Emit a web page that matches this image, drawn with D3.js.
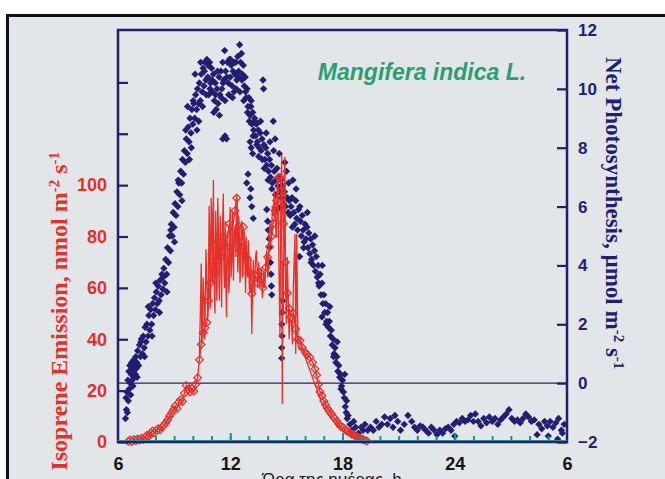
<!DOCTYPE html>
<html>
<head>
<meta charset="utf-8">
<script src="https://cdn.jsdelivr.net/npm/d3@7"></script>
<style>
  body { margin: 0; background: #ffffff; }
  svg { display: block; }
</style>
</head>
<body>
<svg id="svg1" width="665" height="479"></svg>
<script>
"use strict";

// net photosynthesis, [hour, umol m-2 s-1]
const netPhoto = [
  [6.40,-1.2],[6.43,-0.5],[6.45,-0.9],[6.48,-0.3],[6.50,-1.0],[6.53,0.1],[6.55,-0.6],[6.58,0.4],[6.60,-0.2],[6.63,0.6],
  [6.65,0.0],[6.68,-0.4],[6.70,0.3],[6.73,0.7],[6.75,0.1],[6.78,0.5],[6.80,-0.1],[6.83,0.4],[6.85,0.8],[6.88,0.2],
  [6.90,0.6],[6.93,0.3],[6.95,0.9],[6.98,0.5],[7.00,0.7],[7.05,1.1],[7.10,0.6],[7.15,1.3],[7.20,0.9],[7.25,1.5],
  [7.30,1.0],[7.35,1.6],[7.40,1.2],[7.45,1.9],[7.50,1.4],[7.55,2.0],[7.60,1.6],[7.65,2.3],[7.70,1.8],[7.75,2.5],
  [7.80,2.0],[7.85,2.7],[7.90,2.3],[7.95,2.9],[8.00,2.5],[8.05,3.1],[8.10,2.7],[8.15,3.3],[8.20,2.8],[8.25,3.5],
  [8.30,3.0],[8.35,3.7],[8.40,3.2],[8.45,3.9],[8.50,3.4],[8.55,4.2],[8.60,3.7],[8.65,4.6],[8.70,4.1],[8.75,5.0],
  [8.80,4.5],[8.85,5.4],[8.90,5.0],[8.95,5.8],[9.00,5.3],[9.05,6.1],[9.10,5.7],[9.15,6.5],[9.20,6.0],[9.25,6.8],
  [9.30,6.4],[9.35,7.2],[9.40,6.8],[9.45,7.6],[9.50,7.1],[9.55,7.9],[9.60,7.5],[9.65,8.3],[9.70,7.8],[9.75,8.7],
  [9.80,8.2],[9.85,9.0],[9.90,8.5],[9.95,9.3],[10.00,8.8],[10.05,9.5],[10.10,9.0],[10.15,9.8],[10.20,9.3],[10.25,10.0],
  [10.30,9.5],[10.35,10.2],[10.40,9.6],[10.45,10.5],[10.50,9.9],[10.55,10.7],[10.60,10.1],[10.65,10.9],[10.70,10.3],[10.75,11.0],
  [10.80,10.4],[10.85,9.8],[10.90,10.9],[10.95,10.2],[11.00,10.7],[11.05,9.9],[11.10,10.5],[11.15,9.6],[11.20,10.2],[11.25,9.3],
  [11.30,10.0],[11.35,9.5],[11.40,10.4],[11.45,9.8],[11.50,10.6],[11.55,10.0],[11.60,10.9],[11.65,10.3],[11.70,11.3],[11.75,10.6],
  [11.80,8.3],[11.85,10.9],[11.90,10.2],[11.95,11.0],[12.00,10.4],[12.05,10.8],[12.10,10.1],[12.15,10.6],[12.20,9.9],[12.25,10.5],
  [12.30,10.9],[12.35,10.3],[12.40,11.1],[12.45,10.6],[12.50,11.5],[12.55,10.9],[12.60,11.2],[12.65,10.5],[12.70,10.8],[12.75,10.1],
  [12.80,10.4],[12.85,9.7],[12.90,10.0],[12.95,9.4],[13.00,9.7],[13.05,9.1],[13.10,9.4],[13.15,8.8],[13.20,9.2],[13.25,8.6],
  [13.30,9.0],[13.35,8.4],[13.40,8.8],[13.45,8.2],[13.50,8.6],[13.55,8.0],[13.60,8.5],[13.65,7.9],[13.70,8.3],[13.75,10.3],
  [13.78,10.0],[13.80,8.1],[13.85,7.6],[13.90,8.0],[13.95,7.4],[14.00,7.8],[14.05,7.2],[14.10,7.6],[14.15,7.0],[14.20,7.4],
  [14.25,6.8],[14.30,8.9],[14.35,7.2],[14.40,8.3],[14.45,6.9],[14.50,7.3],[14.55,6.7],[14.60,7.0],[14.65,6.5],[14.70,6.9],
  [14.75,6.3],[14.80,6.7],[14.85,6.1],[14.90,6.5],[14.95,6.0],[15.00,7.2],[15.05,6.3],[15.10,5.8],[15.15,6.2],[15.20,5.7],
  [15.25,6.0],[15.30,6.3],[15.35,6.9],[15.40,5.8],[15.45,5.4],[15.50,6.2],[15.55,5.6],[15.60,5.2],[15.65,5.9],[15.70,4.3],
  [15.75,5.5],[15.80,5.0],[15.85,5.7],[15.90,5.2],[15.95,4.8],[16.00,5.4],[16.05,4.9],[16.10,5.3],[16.15,4.6],[16.20,5.1],
  [16.25,4.4],[16.30,4.9],[16.35,4.2],[16.40,4.7],[16.45,4.0],[16.50,4.5],[16.55,3.8],[16.60,4.3],[16.65,3.6],[16.70,4.0],
  [16.75,3.3],[16.80,3.7],[16.85,3.0],[16.90,3.4],[16.95,2.7],[17.00,3.0],[17.05,2.4],[17.10,2.7],[17.15,2.1],[17.20,2.4],
  [17.25,1.9],[17.30,2.1],[17.35,1.6],[17.40,1.8],[17.45,1.3],[17.50,1.5],[17.55,1.0],[17.60,1.2],[17.65,0.7],[17.70,0.9],
  [17.75,0.4],[17.80,0.6],[17.85,0.2],[17.90,0.3],[17.95,-0.1],[18.00,0.1],[18.05,-0.3],[18.10,-0.5],[18.15,-0.8],[18.20,-1.0],
  [18.25,-1.2]
];

// the second cloud of points, the low drop-outs and the scatter round the main band
const netPhotoExtra = [
  [10.52,9.4],[10.62,10.6],[10.72,9.8],[10.82,10.8],[10.92,10.0],[11.02,10.3],[11.12,9.2],[11.22,9.8],[11.32,10.6],[11.42,9.1],
  [11.52,9.7],[11.62,10.2],[11.72,9.6],[11.82,10.4],[11.92,9.8],[12.02,11.0],[12.12,9.7],[12.22,10.9],[12.32,10.0],[12.42,10.4],
  [12.52,9.9],[12.62,10.3],[12.72,9.6],[12.82,9.9],[12.92,9.2],[13.02,8.9],[13.12,9.6],[13.22,8.4],[13.32,8.9],[13.42,8.1],
  [13.52,7.7],[13.62,8.9],[13.72,7.6],[13.82,7.3],[13.92,8.5],[14.02,6.9],[14.12,8.2],[14.22,6.6],[14.32,7.9],[14.42,6.4],
  [11.60,8.3],[11.72,8.4],[12.88,6.8],[12.95,7.1],[13.06,6.3],[13.10,6.6],[13.15,6.0],[13.23,5.6],[13.06,8.2],[13.12,8.0],
  [13.20,7.8],[13.95,5.9],[14.00,5.5],[14.03,5.2],[14.08,4.9],[14.10,4.6],[14.15,4.1],[14.18,3.7],[14.20,3.3],[14.22,3.0],
  [14.80,2.8],[14.78,2.4],[14.76,2.0],[14.77,1.6],[14.75,1.2],[14.75,0.85],[15.70,4.3],[16.90,2.25],
  [7.02,0.2],[7.22,1.4],[7.42,0.9],[7.62,2.6],[7.82,1.6],[8.02,3.4],[8.22,2.4],[8.42,3.6],[8.62,3.1],[8.82,5.2],
  [9.02,4.8],[9.22,6.9],[9.42,6.2],[9.62,8.6],[9.82,7.6],[10.02,9.6],[10.22,8.6],[10.42,10.9],[9.72,9.4],[9.92,8.0],
  [10.12,10.5],[10.32,8.9],[14.52,5.9],[14.62,7.8],[14.72,6.0],[14.92,7.5],[15.12,6.8],[15.32,5.3],[15.52,6.6],[15.72,6.0],
  [15.92,4.6],[16.12,5.8],[16.32,4.1],[16.52,5.0],[16.72,3.4],[16.92,4.0],[17.12,2.0],[17.32,2.6],[17.52,0.9],[17.72,1.4],
  [17.92,-0.2],[18.12,0.3],[18.22,-0.6]
];

// night respiration, after sunset
const netPhotoNight = [
  [18.30,-1.1],[18.40,-1.4],[18.50,-1.6],[18.60,-1.3],[18.70,-1.5],[18.85,-1.7],[19.00,-1.5],[19.10,-1.6],[19.20,-1.4],[19.35,-1.6],
  [19.50,-1.5],[19.65,-1.6],[19.80,-1.3],[19.95,-1.5],[20.10,-1.4],[20.25,-1.15],[20.40,-1.4],[20.55,-1.2],[20.70,-1.5],[20.80,-1.1],
  [20.95,-1.3],[21.10,-1.6],[21.30,-1.4],[21.50,-1.1],[21.70,-1.3],[21.85,-1.5],[22.00,-1.6],[22.15,-1.45],[22.30,-1.5],[22.45,-1.6],
  [22.60,-1.7],[22.75,-1.5],[22.90,-1.6],[23.05,-1.75],[23.20,-1.6],[23.35,-1.7],[23.50,-1.55],[23.65,-1.5],[23.80,-1.6],[23.95,-1.4],
  [24.00,-1.8],[24.10,-1.3],[24.25,-1.35],[24.40,-1.2],[24.55,-1.3],[24.70,-1.25],[24.85,-1.1],[25.00,-1.3],[25.10,-1.05],[25.25,-1.3],
  [25.40,-1.45],[25.55,-1.2],[25.70,-1.35],[25.85,-1.15],[26.00,-1.3],[26.15,-1.2],[26.30,-1.4],[26.45,-1.25],[26.60,-1.15],[26.75,-1.05],
  [26.90,-0.9],[27.05,-1.2],[27.20,-1.3],[27.35,-1.25],[27.50,-1.35],[27.65,-1.2],[27.80,-1.05],[27.95,-1.15],[28.10,-1.3],[28.25,-1.25],
  [28.40,-1.75],[28.50,-1.4],[28.65,-1.55],[28.80,-1.3],[28.95,-1.45],[29.00,-1.8],[29.10,-1.3],[29.25,-1.5],[29.40,-1.35],[29.50,-1.9],
  [29.55,-1.2],[29.70,-1.6],[29.75,-1.7],[29.85,-1.4]
];

// isoprene emission, [hour, nmol m-2 s-1], the line with the open diamonds
const isoMarked = [
  [6.55,0.3],[6.65,0.8],[6.75,0.2],[6.85,1.0],[6.95,0.5],[7.05,1.2],[7.15,0.8],[7.25,1.5],[7.35,1.0],[7.45,2.0],
  [7.55,2.6],[7.65,2.2],[7.75,3.4],[7.85,4.3],[7.95,3.6],[8.05,4.6],[8.15,5.2],[8.25,4.8],[8.35,5.8],[8.45,6.5],
  [8.55,7.5],[8.65,8.6],[8.75,10.0],[8.85,11.2],[8.95,12.5],[9.05,14.0],[9.15,13.0],[9.25,15.5],[9.35,16.5],[9.45,15.8],
  [9.55,19.0],[9.65,22.0],[9.75,20.5],[9.85,19.5],[9.95,20.8],[10.05,19.8],[10.15,22.5],[10.25,25.0],[10.35,32.0],[10.45,38.0],
  [10.55,42.5],[10.65,44.5],[10.75,46.5],[10.85,55.0],[10.95,62.0],[11.05,70],[11.2,66],[11.35,78],[11.5,72],[11.65,80],
  [11.8,76],[11.95,85],[12.1,82],[12.25,90],[12.34,95],[12.45,84],[12.52,74.6],[12.6,78],[12.7,83.7],[12.85,72],
  [13.0,66],[13.15,57.7],[13.3,65],[13.45,62],[13.6,66],[13.75,60],[13.9,68],[14.0,72],[14.1,76],[14.2,80],
  [14.3,85],[14.4,90],[14.48,94],[14.57,103],[14.66,103],[14.75,98],[14.85,85],[14.95,70],[15.05,58],[15.15,52],
  [15.25,48.6],[15.37,50],[15.5,44],[15.6,40],[15.73,39.5],[15.85,36.8],[16.0,35],[16.1,34],[16.26,33],[16.4,31],
  [16.53,28.4],[16.62,26],[16.71,22.5],[16.8,19.5],[16.9,18],[17.0,16],[17.1,14.5],[17.2,13],[17.3,12],[17.42,10.8],
  [17.55,9.5],[17.69,8.2],[17.8,7],[17.9,6],[18.04,5.6],[18.15,4.8],[18.25,4.2],[18.4,3.6],[18.5,3.0],[18.6,2.8],
  [18.7,2.2],[18.8,2.0],[18.93,1.5],[19.05,1.2],[19.15,0.8],[19.3,0.4]
];

// the noisy midday trace, drawn as a plain line
const isoSpiky = [
  [10.35,34],[10.4,50],[10.45,69.5],[10.48,38],[10.5,42],[10.55,64],[10.6,55],[10.63,40],[10.65,44.6],[10.7,75],
  [10.75,62],[10.8,48],[10.83,57.7],[10.87,92],[10.9,80],[10.93,52],[10.95,60],[10.98,95],[11.02,88],[11.06,62],
  [11.1,102],[11.13,70],[11.15,58],[11.18,50],[11.22,90],[11.25,78],[11.28,55],[11.3,62],[11.33,95],[11.36,85],
  [11.4,60],[11.42,55],[11.46,88],[11.5,74],[11.54,52.5],[11.57,80],[11.6,88],[11.63,96.7],[11.66,66],[11.7,60],
  [11.73,86],[11.75,70],[11.8,48.6],[11.84,82],[11.88,76],[11.92,58],[11.95,62],[11.98,88],[12.0,91.5],[12.04,64],
  [12.08,70],[12.12,90],[12.17,62.9],[12.21,78],[12.25,84],[12.3,72],[12.33,96],[12.36,94],[12.4,66],[12.42,70],
  [12.45,88],[12.48,80],[12.52,62],[12.55,66],[12.58,84],[12.62,86],[12.66,64],[12.7,70],[12.74,82],[12.79,66.8],
  [12.82,58],[12.85,80],[12.92,64],[12.97,78.5],[13.02,60],[13.05,58],[13.1,72],[13.15,42],[13.2,62],[13.23,70.7],
  [13.3,58],[13.35,72],[13.4,74.6],[13.47,60],[13.52,70],[13.58,60.3],[13.65,68],[13.72,56],[13.77,65.5],[13.85,60],
  [13.9,70],[13.95,74.6],[14.0,64],[14.03,66],[14.08,82],[14.13,85],[14.2,78],[14.25,92],[14.3,88],[14.35,98],
  [14.4,91.5],[14.45,80],[14.48,80],[14.52,104],[14.55,100],[14.6,70],[14.62,60],[14.66,40.7],[14.7,90],[14.75,112],
  [14.78,14.7],[14.81,70],[14.84,50],[14.88,100],[14.92,111],[14.96,60],[15.0,46],[15.05,72],[15.1,55],[15.15,40],
  [15.2,48],[15.27,47],[15.33,38],[15.37,60],[15.46,81],[15.5,34.3],[15.55,81],[15.62,38],[15.7,36],[15.8,36.8],
  [15.9,35],[16.0,33],[16.15,30],[16.3,27],[16.45,24],[16.6,21],[16.75,18],[16.9,15],[17.05,12.8],[17.2,11],
  [17.4,9],[17.6,7.5],[17.8,6],[18.0,4.5],[18.2,3.6],[18.4,2.6],[18.6,2],[18.8,1.3],[19.0,0.8],[19.2,0.3]
];

// tick values and labels
const isoTicks = [0, 20, 40, 60, 80, 100, 120, 140];
const isoLabelMax = 100;
const pnTicks = [-2, 0, 2, 4, 6, 8, 10, 12];
const hourMajor = [6, 12, 18, 24, 30];
const hourLabels = ["6", "12", "18", "24", "6"];
const hourMinor = d3.range(7, 30);

const navy = "#221e72";
const red = "#e6302a";
const teal = "#2b8a8c";

drawChart();

function drawChart() {
  let svg = d3.select("#svg1");

  // page background with the black frame of the slide
  svg.append("rect").attr("x", 7.5).attr("y", 15.5).attr("width", 680).attr("height", 480)
     .attr("fill", "#e3e6e9").attr("stroke", "#111").attr("stroke-width", 3);

  let x = d3.scaleLinear().domain([6, 30]).range([118, 567]),
      yIso = d3.scaleLinear().domain([0, 160]).range([442, 31]),
      yPn = d3.scaleLinear().domain([-2, 12]).range([442, 30]);

  // zero line of photosynthesis
  svg.append("line")
     .attr("x1", x(6)).attr("x2", x(30))
     .attr("y1", yPn(0)).attr("y2", yPn(0))
     .attr("stroke", navy).attr("stroke-width", 1.2);

  // blue diamonds
  let diamond = d3.symbol(d3.symbolSquare, 27);
  let allPn = netPhoto.concat(netPhotoExtra, netPhotoNight);
  svg.append("g").selectAll("path")
     .data(allPn)
     .enter().append("path")
     .attr("d", diamond)
     .attr("transform", d => `translate(${x(d[0])},${yPn(d[1])}) rotate(45)`)
     .attr("fill", navy);

  // red isoprene lines
  let line = d3.line().x(d => x(d[0])).y(d => yIso(d[1]));
  svg.append("path").datum(isoSpiky)
     .attr("d", line).attr("fill", "none")
     .attr("stroke", red).attr("stroke-width", 1.3);
  svg.append("path").datum(isoMarked)
     .attr("d", line).attr("fill", "none")
     .attr("stroke", red).attr("stroke-width", 1.4);

  let openDiamond = d3.symbol(d3.symbolSquare, 30);
  svg.append("g").selectAll("path")
     .data(isoMarked)
     .enter().append("path")
     .attr("d", openDiamond)
     .attr("transform", d => `translate(${x(d[0])},${yIso(d[1])}) rotate(45)`)
     .attr("fill", "none").attr("stroke", red).attr("stroke-width", 1.2);

  // plot frame
  svg.append("rect")
     .attr("x", x(6)).attr("y", yPn(12))
     .attr("width", x(30) - x(6)).attr("height", yPn(-2) - yPn(12))
     .attr("fill", "none").attr("stroke", navy).attr("stroke-width", 2.5);
  svg.append("line")
     .attr("x1", x(6)).attr("x2", x(30))
     .attr("y1", yPn(-2) - 1.5).attr("y2", yPn(-2) - 1.5)
     .attr("stroke", teal).attr("stroke-width", 1);

  // left axis (isoprene)
  let leftAxis = svg.append("g")
     .attr("transform", `translate(${x(6)},0)`)
     .call(d3.axisLeft(yIso).tickValues(isoTicks).tickSizeInner(-10).tickSizeOuter(0).tickPadding(11)
        .tickFormat(d => d <= isoLabelMax ? d : ""));
  leftAxis.select(".domain").remove();
  leftAxis.selectAll(".tick line").attr("stroke", navy).attr("stroke-width", 2.2);
  leftAxis.selectAll(".tick text")
     .attr("fill", red).style("font-family", "'Liberation Sans', Arial, sans-serif")
     .style("font-size", "18px").style("font-weight", "bold");

  // right axis (net photosynthesis)
  let rightAxis = svg.append("g")
     .attr("transform", `translate(${x(30)},0)`)
     .call(d3.axisRight(yPn).tickValues(pnTicks).tickSizeInner(-10).tickSizeOuter(0).tickPadding(11));
  rightAxis.select(".domain").remove();
  rightAxis.selectAll(".tick line").attr("stroke", navy).attr("stroke-width", 2.2);
  rightAxis.selectAll(".tick text")
     .attr("fill", navy).style("font-family", "'Liberation Sans', Arial, sans-serif")
     .style("font-size", "17px").style("font-weight", "bold");

  // bottom axis, hourly minor ticks and labelled major ticks
  let minorAxis = svg.append("g")
     .attr("transform", `translate(0,${yPn(-2) - 1})`)
     .call(d3.axisBottom(x).tickValues(hourMinor).tickSizeInner(-5).tickSizeOuter(0).tickFormat(""));
  minorAxis.select(".domain").remove();
  minorAxis.selectAll(".tick line").attr("stroke", teal).attr("stroke-width", 2);

  let majorAxis = svg.append("g")
     .attr("transform", `translate(0,${yPn(-2) - 1})`)
     .call(d3.axisBottom(x).tickValues(hourMajor).tickSizeInner(-8).tickSizeOuter(0).tickPadding(16)
        .tickFormat((d, i) => hourLabels[i]));
  majorAxis.select(".domain").remove();
  majorAxis.selectAll(".tick line").attr("stroke", teal).attr("stroke-width", 2)
     .filter(d => d == 6 || d == 30).remove();
  majorAxis.selectAll(".tick text")
     .attr("fill", "#151515").style("font-family", "'Liberation Sans', Arial, sans-serif")
     .style("font-size", "18px").style("font-weight", "bold");

  // axis titles
  let leftTitle = svg.append("text")
     .attr("transform", "translate(67,152) rotate(-90)")
     .attr("text-anchor", "end")
     .attr("fill", red)
     .style("font-family", "'Liberation Serif', 'Times New Roman', serif")
     .style("font-size", "24px").style("font-weight", "bold");
  leftTitle.append("tspan").text("Isoprene Emission, nmol m");
  leftTitle.append("tspan").attr("dy", -8).style("font-size", "15px").text("-2");
  leftTitle.append("tspan").attr("dy", 8).text(" s");
  leftTitle.append("tspan").attr("dy", -8).style("font-size", "15px").text("-1");

  let rightTitle = svg.append("text")
     .attr("transform", "translate(606,57) rotate(90)")
     .attr("text-anchor", "start")
     .attr("fill", navy)
     .style("font-family", "'Liberation Serif', 'Times New Roman', serif")
     .style("font-size", "23px").style("font-weight", "bold");
  rightTitle.append("tspan").text("Net Photosynthesis, \u00b5mol m");
  rightTitle.append("tspan").attr("dy", -8).style("font-size", "15px").text("-2");
  rightTitle.append("tspan").attr("dy", 8).text(" s");
  rightTitle.append("tspan").attr("dy", -8).style("font-size", "15px").text("-1");

  svg.append("text")
     .attr("x", 332).attr("y", 485)
     .attr("text-anchor", "middle")
     .attr("fill", "#151515")
     .style("font-family", "'Liberation Sans', Arial, sans-serif")
     .style("font-size", "17px")
     .text("Ώρα της ημέρας, h");

  // species name
  svg.append("text")
     .attr("x", 422).attr("y", 80)
     .attr("text-anchor", "middle")
     .attr("fill", "#2a9f6f")
     .style("font-family", "'Liberation Sans', Arial, sans-serif")
     .style("font-size", "23px").style("font-weight", "bold").style("font-style", "italic")
     .text("Mangifera indica L.");
}
</script>
</body>
</html>
